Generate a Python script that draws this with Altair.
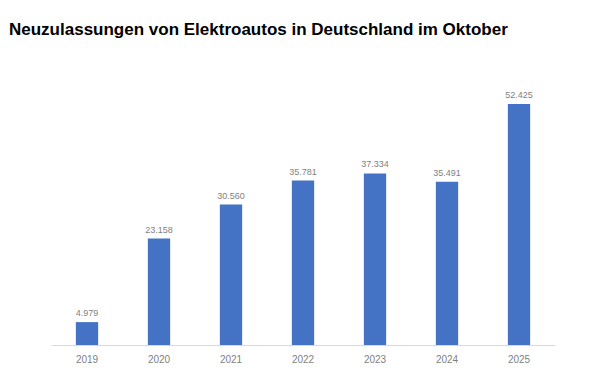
import altair as alt
import pandas as pd

years = ["2019", "2020", "2021", "2022", "2023", "2024", "2025"]
values = [4979, 23158, 30560, 35781, 37334, 35491, 52425]
labels = ["4.979", "23.158", "30.560", "35.781", "37.334", "35.491", "52.425"]

df = pd.DataFrame({"year": years, "value": values, "label": labels})

x = alt.X("year:N", sort=years, title=None,
          scale=alt.Scale(paddingInner=0.69, paddingOuter=0.345),
          axis=alt.Axis(labelAngle=0, ticks=False, domainColor="#d9d9d9",
                        labelColor="#7f7f7f", labelFontSize=10, labelPadding=9,
                        labelFont="Liberation Sans", grid=False))
y = alt.Y("value:Q", title=None, scale=alt.Scale(domain=[0, 56560]), axis=None)

bars = alt.Chart(df).mark_bar(color="#4472C4").encode(x=x, y=y)
text = alt.Chart(df).mark_text(dy=-9, fontSize=9, color="#7f7f7f",
                               font="Liberation Sans").encode(x=x, y=y, text="label:N")

chart = (bars + text).properties(
    width=504, height=260,
    title=alt.TitleParams("Neuzulassungen von Elektroautos in Deutschland im Oktober",
                          anchor="start", dx=-42, offset=46, fontSize=17,
                          font="Liberation Sans", fontWeight="bold", color="#000000"),
    autosize=alt.AutoSizeParams(type="none"),
    padding={"left": 43, "top": 77, "right": 40, "bottom": 30},
).configure(background="white", view=alt.ViewConfig(stroke=None))

chart.save("out.html", embed_options={"renderer": "svg", "actions": False})
